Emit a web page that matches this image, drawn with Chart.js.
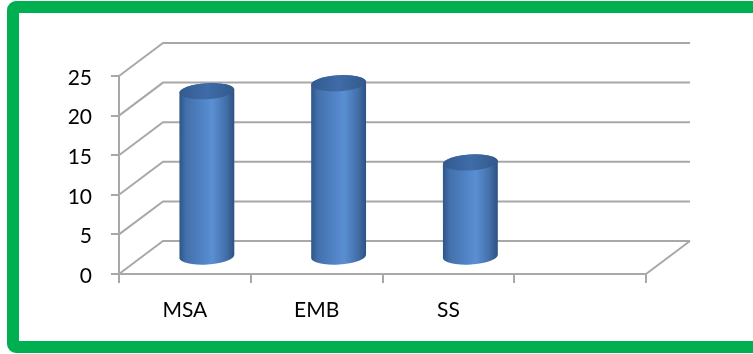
<!DOCTYPE html>
<html>
<head>
<meta charset="utf-8">
<script src="https://cdn.jsdelivr.net/npm/chart.js@4/dist/chart.umd.min.js"></script>
<style>
  html, body { margin: 0; padding: 0; background: #fff; overflow: hidden; }
  #wrap { position: relative; width: 753px; height: 354px; }
  #myChart { position: absolute; left: 0; top: 0; }
  #frame {
    position: absolute; left: 7px; top: 1px; width: 770px; height: 328px;
    border: 12px solid #00b050; border-radius: 9px; pointer-events: none;
  }
</style>
</head>
<body>
<div id="wrap">
  <canvas id="myChart" width="753" height="354"></canvas>
  <div id="frame"></div>
</div>
<script>
// data
var categories = ['MSA', 'EMB', 'SS', ''];
var values = [21, 22, 12];
var yMax = 25;
var yStep = 5;

// 3d depth of the box (back wall offset)
var depthX = 44, depthY = -33;
var lineGrey = '#a8a8a8';

// draws back wall gridlines, side wall and floor edges
var wallsPlugin = {
    id: 'walls',
    beforeDatasetsDraw: function (chart) {
        var ctx = chart.ctx;
        var area = chart.chartArea;
        var y = chart.scales.y;
        ctx.save();
        ctx.strokeStyle = lineGrey;
        ctx.lineWidth = 2;
        ctx.beginPath();
        for (var v = 0; v <= yMax; v += yStep) {
            var py = y.getPixelForValue(v);
            ctx.moveTo(area.left, py);
            ctx.lineTo(area.left + depthX, py + depthY);
            ctx.lineTo(area.right + depthX, py + depthY);
        }
        // floor right edge
        ctx.moveTo(area.right, area.bottom);
        ctx.lineTo(area.right + depthX, area.bottom + depthY);
        ctx.stroke();
        ctx.restore();
    }
};

// draws every bar as a cylinder, from the bar elements the library laid out
var cylinderPlugin = {
    id: 'cylinders',
    afterDatasetsDraw: function (chart) {
        var ctx = chart.ctx;
        var meta = chart.getDatasetMeta(0);
        var tilt = -0.06;
        meta.data.forEach(function (bar) {
            var cx = bar.x + depthX / 2;
            var top = bar.y + depthY / 2;
            var base = bar.base + depthY / 2;
            var rx = bar.width / 2;
            var ry = 8;

            ctx.save();
            var g = ctx.createLinearGradient(cx - rx, 0, cx + rx, 0);
            g.addColorStop(0, '#2d5689');
            g.addColorStop(0.12, '#4370ab');
            g.addColorStop(0.4, '#4f82c4');
            g.addColorStop(0.6, '#5a8fd3');
            g.addColorStop(0.85, '#436fa9');
            g.addColorStop(1, '#2b5282');
            ctx.fillStyle = g;
            ctx.beginPath();
            ctx.moveTo(cx - rx, top + rx * Math.sin(-tilt));
            ctx.ellipse(cx, base, rx, ry, tilt, Math.PI, 0, true);
            ctx.ellipse(cx, top, rx, ry, tilt, 0, Math.PI, true);
            ctx.closePath();
            ctx.fill();

            var t = ctx.createLinearGradient(cx - rx, 0, cx + rx, 0);
            t.addColorStop(0, '#325a8f');
            t.addColorStop(0.5, '#3f6ca8');
            t.addColorStop(1, '#32598c');
            ctx.fillStyle = t;
            ctx.beginPath();
            ctx.ellipse(cx, top, rx, ry, tilt, 0, Math.PI * 2);
            ctx.fill();
            ctx.restore();
        });
    }
};

var ctx = document.getElementById('myChart').getContext('2d');

var myChart = new Chart(ctx, {
    type: 'bar',
    data: {
        labels: categories,
        datasets: [{
            data: values,
            backgroundColor: 'rgba(0,0,0,0)',
            borderWidth: 0,
            categoryPercentage: 1,
            barPercentage: 0.417
        }]
    },
    options: {
        responsive: false,
        animation: false,
        devicePixelRatio: 1,
        layout: { padding: { left: 0, top: 76, right: 107, bottom: 0 } },
        plugins: { legend: { display: false }, tooltip: { enabled: false } },
        scales: {
            x: {
                afterFit: function (scale) { scale.height = 80; },
                grid: { drawOnChartArea: false, drawTicks: true, tickLength: 9, color: lineGrey, lineWidth: 2, offset: true },
                border: { color: lineGrey, width: 2 },
                ticks: { color: '#000', padding: 15, font: { family: 'Lato', size: 21 } }
            },
            y: {
                min: 0,
                max: yMax,
                afterFit: function (scale) { scale.width = 119; },
                grid: { drawOnChartArea: false, drawTicks: true, tickLength: 8, color: lineGrey, lineWidth: 2 },
                border: { color: lineGrey, width: 2 },
                ticks: { stepSize: yStep, color: '#000', padding: 19, labelOffset: 2, font: { family: 'Lato', size: 21 } }
            }
        }
    },
    plugins: [wallsPlugin, cylinderPlugin]
});
</script>
</body>
</html>
